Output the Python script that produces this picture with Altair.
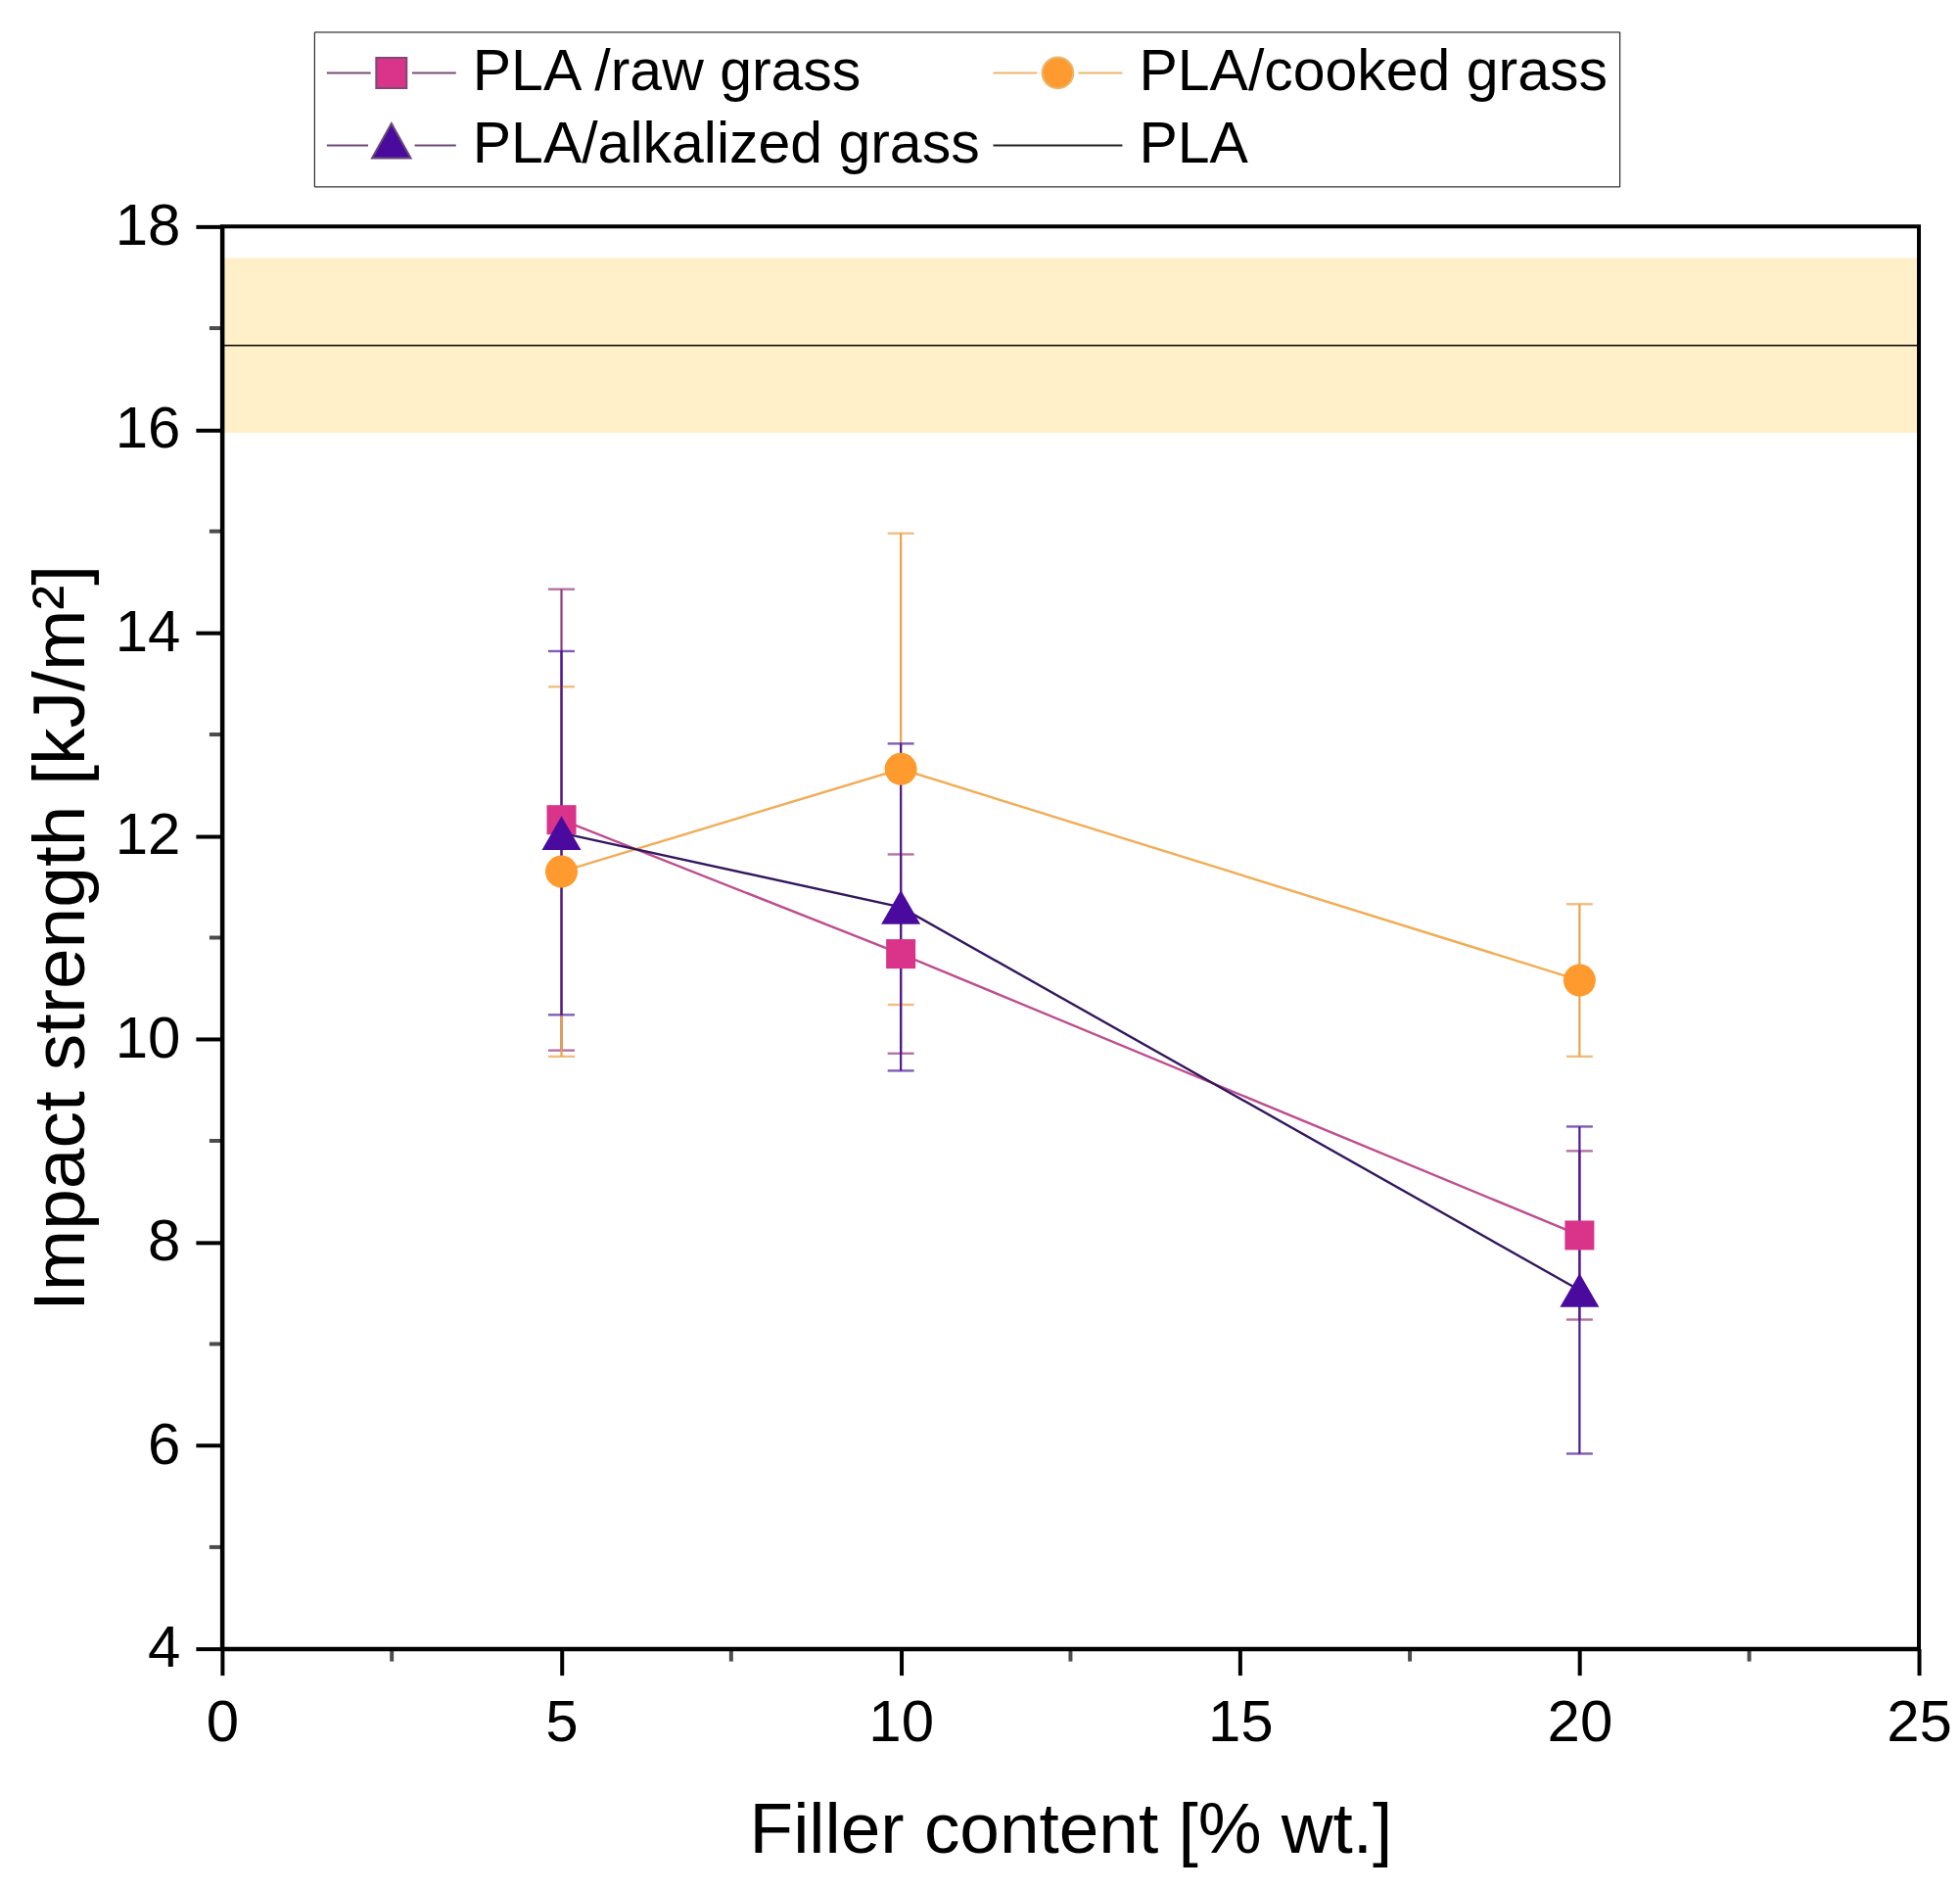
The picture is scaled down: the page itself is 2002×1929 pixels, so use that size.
import altair as alt
import pandas as pd

# ---------------- data ----------------
filler = [5, 10, 20]
series_names = ["PLA /raw grass", "PLA/cooked grass", "PLA/alkalized grass"]
raw_mean = [12.16, 10.84, 8.07]
raw_err = [2.27, 0.98, 0.83]
cooked_mean = [11.65, 12.66, 10.58]
cooked_err = [1.82, 2.32, 0.75]
alk_mean = [12.03, 11.30, 7.53]
alk_err = [1.79, 1.61, 1.61]
pla_mean = 16.83
pla_err = 0.86

# legend order (column-major: col 1 = raw, alkalized; col 2 = cooked, PLA)
legend_names = ["PLA /raw grass", "PLA/alkalized grass", "PLA/cooked grass", "PLA"]
x_domain = [0, 25]
y_domain = [4, 18]
x_major = [0, 5, 10, 15, 20, 25]
x_minor = [2.5, 7.5, 12.5, 17.5, 22.5]
y_major = [4, 6, 8, 10, 12, 14, 16, 18]
y_minor = [5, 7, 9, 11, 13, 15, 17]

# ---------------- styles ----------------
FONT = "Liberation Sans"
marker_colors = ["#D9338A", "#FF9A2E", "#4B0A9E"]
line_colors = ["#BE4E8E", "#F2AC55", "#33175F"]
err_colors = ["#93387F", "#EBA24A", "#4A1A95"]
shapes = ["square", "circle", "triangle-up"]
sizes = [900, 1090, 1600]

legend_fill = ["#D9338A", "#4B0A9E", "#FF9A2E", "#222222"]
legend_stroke = ["#7B4A78", "#6A4A78", "#E8B870", "#222222"]
legend_paths = [
    "M-1,0H-0.32M0.32,0H1M-0.235,-0.235H0.235V0.235H-0.235Z",
    "M-1,0H-0.36M0.36,0H1M0,-0.34L0.3,0.2H-0.3Z",
    "M-1,0H-0.32M0.32,0H1M0.24,0A0.24,0.24,0,1,1,-0.24,0A0.24,0.24,0,1,1,0.24,0Z",
    "M-1,0H1",
]

W, H = 1734, 1453


def X(field):
    return alt.X(
        field,
        type="quantitative",
        scale=alt.Scale(domain=x_domain, nice=False, zero=False),
        axis=alt.Axis(
            values=x_major, title="Filler content [% wt.]", grid=False,
            tickSize=27, tickWidth=4, tickColor="black", domainWidth=4,
            domainColor="black", labelFont=FONT, labelFontSize=60,
            labelColor="black", labelPadding=20, labelFlush=False,
            labelOverlap=False, titleFont=FONT, titleFontSize=73,
            titleFontWeight="normal", titleColor="black", titlePadding=44,
            zindex=1,
        ),
    )


def Y(field):
    return alt.Y(
        field,
        type="quantitative",
        scale=alt.Scale(domain=y_domain, nice=False, zero=False),
        axis=alt.Axis(
            values=y_major, title="Impact strength [kJ/m²]", grid=False,
            tickSize=27, tickWidth=4, tickColor="black", domainWidth=4,
            domainColor="black", labelFont=FONT, labelFontSize=60,
            labelColor="black", labelPadding=16, labelFlush=False,
            labelOverlap=False, titleFont=FONT, titleFontSize=75,
            titleFontWeight="normal", titleColor="black", titlePadding=16,
            zindex=1,
        ),
    )


layers = []

# PLA band and line
band_df = pd.DataFrame({"x0": [x_domain[0]], "x1": [x_domain[1]],
                        "lo": [pla_mean - pla_err], "hi": [pla_mean + pla_err],
                        "mean": [pla_mean]})
layers.append(alt.Chart(band_df).mark_rect(color="#FFF0C9").encode(
    x=X("x0"), x2="x1", y=Y("lo"), y2="hi"))
layers.append(alt.Chart(band_df).mark_rule(color="black", strokeWidth=1.6).encode(
    x=X("x0"), x2="x1", y=Y("mean")))

means = [raw_mean, cooked_mean, alk_mean]
errs = [raw_err, cooked_err, alk_err]
dfs = []
for i, name in enumerate(series_names):
    d = pd.DataFrame({
        "filler": filler,
        "mean": means[i],
        "lo": [m - e for m, e in zip(means[i], errs[i])],
        "hi": [m + e for m, e in zip(means[i], errs[i])],
        "series": name,
    })
    dfs.append(d)

# error bars
for i, d in enumerate(dfs):
    base = alt.Chart(d)
    layers.append(base.mark_rule(color=err_colors[i], strokeWidth=2.2).encode(
        x=X("filler"), y=Y("lo"), y2="hi"))
    layers.append(base.mark_tick(color=err_colors[i], orient="horizontal", size=27,
                                 thickness=2.4).encode(x=X("filler"), y=Y("lo")))
    layers.append(base.mark_tick(color=err_colors[i], orient="horizontal", size=27,
                                 thickness=2.4).encode(x=X("filler"), y=Y("hi")))

# connecting lines
for i, d in enumerate(dfs):
    layers.append(alt.Chart(d).mark_line(color=line_colors[i], strokeWidth=2.4).encode(
        x=X("filler"), y=Y("mean")))

# markers
for i, d in enumerate(dfs):
    layers.append(alt.Chart(d).mark_point(filled=True, opacity=1, shape=shapes[i],
                                          size=sizes[i], color=marker_colors[i]).encode(
        x=X("filler"), y=Y("mean")))

# minor ticks
xmin_df = pd.DataFrame({"v": x_minor, "base": y_domain[0]})
ymin_df = pd.DataFrame({"v": y_minor, "base": x_domain[0]})
layers.append(alt.Chart(xmin_df).mark_tick(color="black", orient="vertical", size=13,
                                           thickness=4, yOffset=6.5).encode(
    x=X("v"), y=Y("base")))
layers.append(alt.Chart(ymin_df).mark_tick(color="black", orient="horizontal", size=13,
                                           thickness=4, xOffset=-6.5).encode(
    x=X("base"), y=Y("v")))

# frame
frame_df = pd.DataFrame({"x0": [x_domain[0]], "x1": [x_domain[1]],
                         "y0": [y_domain[0]], "y1": [y_domain[1]]})
layers.append(alt.Chart(frame_df).mark_rect(filled=False, stroke="black", strokeWidth=4).encode(
    x=X("x0"), x2="x1", y=Y("y0"), y2="y1"))

# legend layer (no marks drawn, only legend)
leg_df = pd.DataFrame({"series": legend_names})
legend = alt.Legend(
    orient="none", legendX=94, legendY=-199, columns=2, title=None,
    labelFont=FONT, labelFontSize=59, labelColor="black", labelOffset=16,
    labelLimit=0, symbolSize=17424, symbolStrokeWidth=2, columnPadding=12,
    rowPadding=14, padding=12, strokeColor="black", fillColor="white",
    symbolLimit=0, clipHeight=60,
)
layers.append(
    alt.Chart(leg_df).transform_filter("false").mark_point(
        filled=True, opacity=1, size=17424, strokeWidth=2).encode(
        fill=alt.Fill("series:N", scale=alt.Scale(domain=legend_names,
                      range=legend_fill), legend=legend),
        stroke=alt.Stroke("series:N", scale=alt.Scale(domain=legend_names,
                          range=legend_stroke), legend=legend),
        shape=alt.Shape("series:N", scale=alt.Scale(domain=legend_names,
                        range=legend_paths), legend=legend),
    )
)

chart = alt.layer(*layers).properties(
    width=W, height=H,
    padding={"left": 17, "top": 23, "right": 0, "bottom": 4},
    background="white",
).configure_view(stroke=None)

chart.save("out.html", embed_options={"renderer": "svg", "actions": False})
